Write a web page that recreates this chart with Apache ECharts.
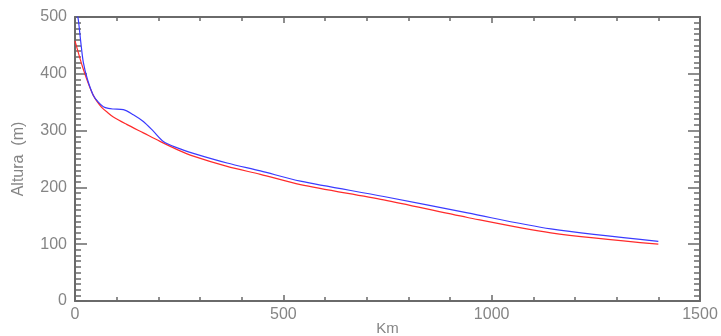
<!DOCTYPE html>
<html>
<head>
<meta charset="utf-8">
<script src="https://cdn.jsdelivr.net/npm/echarts@6/dist/echarts.min.js"></script>
<style>
  html, body { margin: 0; padding: 0; background: #fff; }
  #chart { width: 721px; height: 336px; }
</style>
</head>
<body>
<div id="chart"></div>
<script>
// distance along the river (km) and height (m) for each profile
const blueKm = [0, 4, 8, 14, 20, 30, 44, 56, 68, 80, 92, 116, 140, 164, 188, 212, 244, 284, 365, 445, 541, 741, 942, 1142, 1400];
const blueAlt = [540, 510, 495, 455, 420, 390, 362, 350, 342, 339, 338, 337, 328, 316, 299, 281, 270, 260, 243, 229, 211, 184, 155, 127, 105];
const redKm = [0, 10, 20, 32, 44, 54, 64, 78, 92, 124, 164, 204, 244, 284, 365, 445, 541, 741, 942, 1142, 1400];
const redAlt = [458, 432, 408, 383, 362, 350, 341, 332, 324, 311, 296, 281, 267, 255, 237, 223, 205, 178, 147, 120, 100];

const axisColor = "#6a6a6a";
const labelColor = "#858585";
const font = "Liberation Sans";

const pairs = (xs, ys) => xs.map((x, i) => [x, ys[i]]);

const myChart = echarts.init(document.getElementById("chart"));

const tick = (len) => ({ show: true, inside: true, length: len, lineStyle: { color: axisColor, width: 1.5 } });
const minor = (split, len) => ({ show: true, splitNumber: split, length: len, lineStyle: { color: axisColor, width: 1.5 } });
const line = { show: true, onZero: false, lineStyle: { color: axisColor, width: 2 } };
const noGrid = { show: false };

myChart.setOption({
  animation: false,
  grid: { left: 75, right: 21, top: 17, bottom: 35, outerBoundsMode: "none" },
  xAxis: [
    {
      type: "value", min: 0, max: 1500, interval: 500, position: "bottom",
      name: "Km", nameLocation: "middle", nameGap: 20, nameMoveOverlap: false,
      nameTextStyle: { color: labelColor, fontSize: 15, fontFamily: font, verticalAlign: "top" },
      axisLabel: { color: labelColor, fontSize: 16, fontFamily: font, margin: 6, formatter: (v) => String(v) },
      axisTick: tick(6), minorTick: minor(5, 4), axisLine: line, splitLine: noGrid,
    },
    {
      type: "value", min: 0, max: 1500, interval: 500, position: "top",
      axisLabel: { show: false },
      axisTick: tick(6), minorTick: minor(5, 4), axisLine: line, splitLine: noGrid,
    },
  ],
  yAxis: [
    {
      type: "value", min: 0, max: 500, interval: 100, position: "left",
      name: "Altura  (m)", nameLocation: "middle", nameGap: 48, nameRotate: 90,
      nameTextStyle: { color: labelColor, fontSize: 16, fontFamily: font },
      axisLabel: { color: labelColor, fontSize: 16, fontFamily: font, margin: 8 },
      axisTick: tick(12), minorTick: minor(10, 6), axisLine: line, splitLine: noGrid,
    },
    {
      type: "value", min: 0, max: 500, interval: 100, position: "right",
      axisLabel: { show: false },
      axisTick: tick(12), minorTick: minor(10, 6), axisLine: line, splitLine: noGrid,
    },
  ],
  series: [
    {
      type: "line", data: pairs(redKm, redAlt), smooth: 0.3, showSymbol: false,
      lineStyle: { color: "#ff2b2b", width: 1.2 },
    },
    {
      type: "line", data: pairs(blueKm, blueAlt), smooth: 0.3, showSymbol: false,
      lineStyle: { color: "#3b3bff", width: 1.2 },
    },
  ],
});
</script>
</body>
</html>
